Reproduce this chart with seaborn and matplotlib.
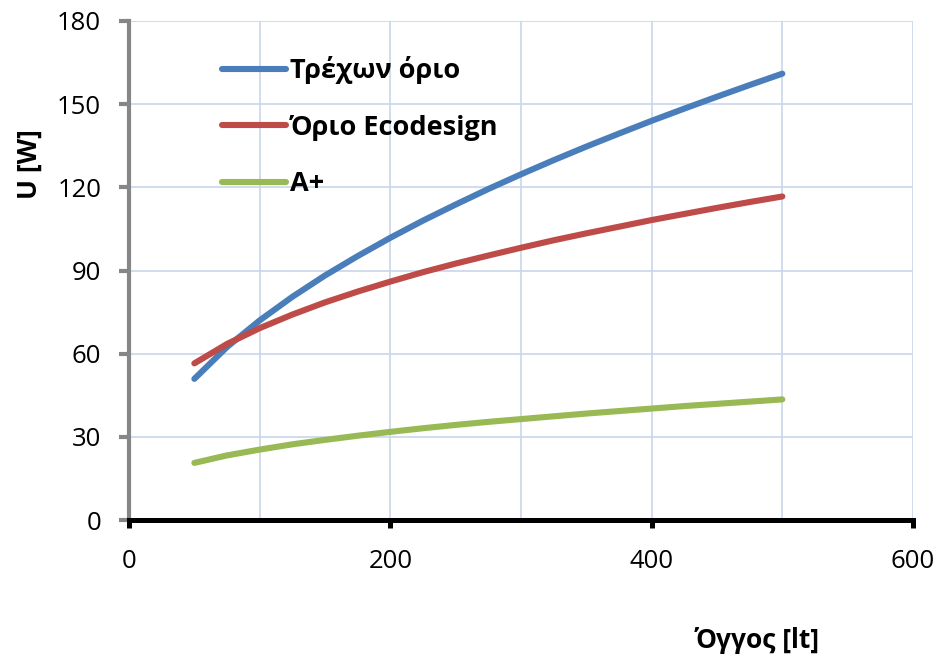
import matplotlib
matplotlib.use("Agg")
import matplotlib.pyplot as plt
import seaborn as sns
import pandas as pd

# Data
volume = [50, 75, 100, 125, 150, 175, 200, 225, 250, 275, 300, 325, 350, 375, 400, 425, 450, 475, 500]
current_limit = [50.9, 62.4, 72.0, 80.5, 88.2, 95.2, 101.8, 108.0, 113.8, 119.4, 124.7, 129.8,
                 134.7, 139.4, 144.0, 148.4, 152.7, 156.9, 161.0]
ecodesign_limit = [56.5, 63.5, 69.2, 74.1, 78.5, 82.4, 86.0, 89.4, 92.5, 95.4, 98.2, 100.9,
                   103.4, 105.8, 108.2, 110.4, 112.6, 114.7, 116.7]
a_plus = [20.6, 23.3, 25.4, 27.3, 28.9, 30.4, 31.8, 33.1, 34.3, 35.4, 36.4, 37.4,
          38.4, 39.3, 40.2, 41.1, 41.9, 42.7, 43.5]

series_names = ["Τρέχων όριο", "Όριο Ecodesign", "A+"]
colors = ["#4a7ebb", "#be4b48", "#98b954"]
x_ticks = [0, 200, 400, 600]
y_ticks = [0, 30, 60, 90, 120, 150, 180]

rows = []
for name, vals in zip(series_names, [current_limit, ecodesign_limit, a_plus]):
    for v, u in zip(volume, vals):
        rows.append({"Όγγος [lt]": v, "U [W]": u, "series": name})
df = pd.DataFrame(rows)

sns.set_style("white")
plt.rcParams['font.family'] = ['Open Sans', 'DejaVu Sans']
plt.rcParams['text.color'] = 'black'
plt.rcParams['xtick.labelcolor'] = 'black'
plt.rcParams['ytick.labelcolor'] = 'black'

fig = plt.figure(figsize=(9.4, 6.61), dpi=100)
ax = fig.add_axes([129/940, 1 - 520/661, (913 - 129)/940, (520 - 21)/661])

sns.lineplot(data=df, x="Όγγος [lt]", y="U [W]", hue="series",
             hue_order=series_names, palette=colors, linewidth=4.4,
             ax=ax, solid_capstyle="round", legend=True)

ax.set_xlim(0, 600)
ax.set_ylim(0, 180)
ax.set_xticks(x_ticks)
ax.set_yticks(y_ticks)
ax.set_xticks([100, 300, 500], minor=True)
ax.grid(True, which="both", color="#c8d6ea", linewidth=1.2)
ax.tick_params(axis="x", which="minor", length=0)
ax.set_axisbelow(True)

for s in ["top", "right"]:
    ax.spines[s].set_visible(False)
ax.spines["left"].set_color("#868686")
ax.spines["left"].set_linewidth(3.0)
ax.spines["bottom"].set_color("black")
ax.spines["bottom"].set_linewidth(3.6)
ax.spines["bottom"].set_zorder(5)

ax.tick_params(axis="y", which="major", left=True, direction="out", length=7, width=3.0,
               color="#868686", labelcolor="black", labelsize=18.5, pad=13)
ax.tick_params(axis="x", which="major", bottom=True, direction="out", length=6, width=3.6,
               color="black", labelcolor="black", labelsize=18.5, pad=15)

ax.set_xlabel("")
ax.set_ylabel("")
fig.text(757/940, 1 - 640/661, "Όγγος [lt]", ha="center", va="center",
         fontsize=19, fontweight="bold", color="black")
fig.text(29/940, 1 - 164/661, "U [W]", ha="center", va="center",
         fontsize=19, fontweight="bold", rotation=90, color="black")

handles, labels = ax.get_legend_handles_labels()
for h in handles:
    h.set_solid_capstyle("round")
leg = ax.legend(handles, labels, loc="upper left", bbox_to_anchor=(0.088, 0.978),
                frameon=False, handlelength=2.35, handletextpad=0.15,
                labelspacing=1.12, prop={"size": 19.5, "weight": "bold"})
for t in leg.get_texts():
    t.set_color("black")

fig.savefig("out.png", dpi=100)
